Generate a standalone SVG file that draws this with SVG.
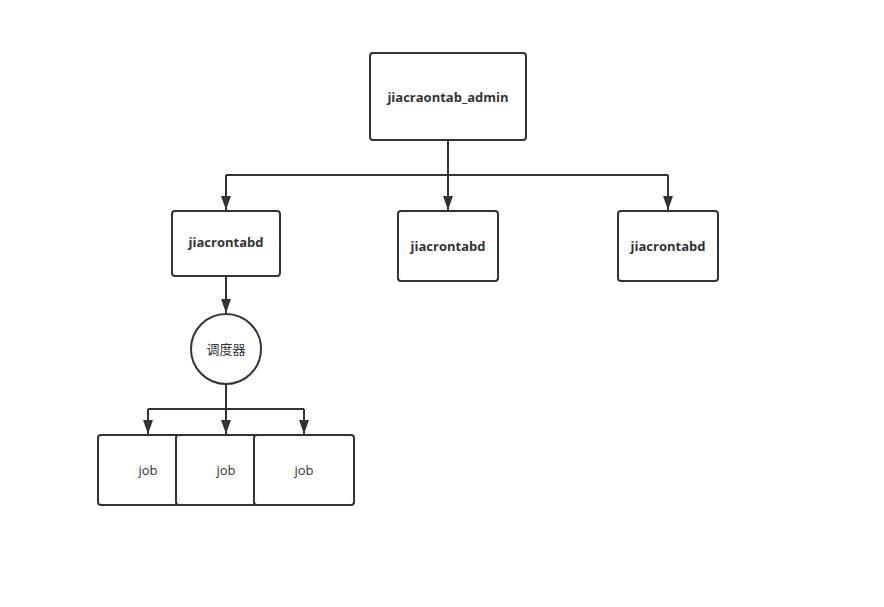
<svg xmlns="http://www.w3.org/2000/svg" width="884" height="607" viewBox="0 0 884 607">
<style>
.box{fill:#fff;stroke:#333;stroke-width:2}
.ln{fill:none;stroke:#333;stroke-width:2}
.b{font-family:"Open Sans","Noto Sans","Noto Sans CJK SC",sans-serif;font-weight:bold;font-size:13px;fill:#333;text-anchor:middle}
.n{font-family:"Open Sans","Noto Sans CJK SC",sans-serif;font-size:13px;fill:#333;text-anchor:middle}
</style>
<defs>
<marker id="a" viewBox="0 0 14 10" refX="14" refY="5" markerWidth="14" markerHeight="10" markerUnits="userSpaceOnUse" orient="auto">
<path d="M0,0 L14,5 L0,10 Z" fill="#333"/>
</marker>
</defs>
<rect width="884" height="607" fill="#fff"/>
<g id="connectors">
<path class="ln" d="M448,140 V175"/>
<path class="ln" d="M226,175 H668"/>
<path class="ln" d="M226,175 V210" marker-end="url(#a)"/>
<path class="ln" d="M448,175 V210" marker-end="url(#a)"/>
<path class="ln" d="M668,175 V210" marker-end="url(#a)"/>
<path class="ln" d="M226,276 V313" marker-end="url(#a)"/>
<path class="ln" d="M226,384 V409"/>
<path class="ln" d="M148,409 H304"/>
<path class="ln" d="M148,409 V434" marker-end="url(#a)"/>
<path class="ln" d="M226,409 V434" marker-end="url(#a)"/>
<path class="ln" d="M304,409 V434" marker-end="url(#a)"/>
</g>
<g id="admin"><rect class="box" x="370" y="53" width="156" height="87" rx="3"/><text class="b" x="448" y="102">jiacraontab_admin</text></g>
<g id="d1"><rect class="box" x="172" y="211" width="108" height="65" rx="3"/><text class="b" x="226" y="247">jiacrontabd</text></g>
<g id="d2"><rect class="box" x="398" y="211" width="100" height="70" rx="3"/><text class="b" x="448" y="251">jiacrontabd</text></g>
<g id="d3"><rect class="box" x="618" y="211" width="100" height="70" rx="3"/><text class="b" x="668" y="251">jiacrontabd</text></g>
<g id="sched"><circle class="box" cx="226" cy="349" r="35"/><text class="n" x="226" y="354">调度器</text></g>
<g id="job1"><rect class="box" x="98" y="435" width="100" height="70" rx="3"/><text class="n" x="148" y="475">job</text></g>
<g id="job2"><rect class="box" x="176" y="435" width="100" height="70" rx="3"/><text class="n" x="226" y="475">job</text></g>
<g id="job3"><rect class="box" x="254" y="435" width="100" height="70" rx="3"/><text class="n" x="304" y="475">job</text></g>
</svg>
